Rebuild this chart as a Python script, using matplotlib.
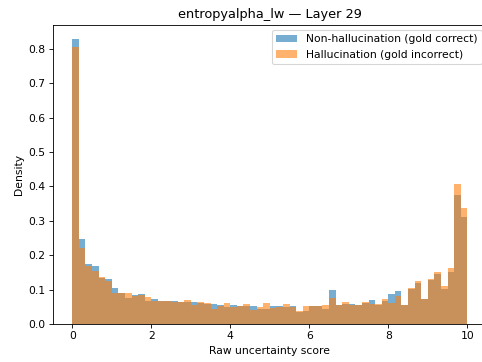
import numpy as np
import matplotlib
matplotlib.use('Agg')
import matplotlib.pyplot as plt

# Histogram densities (60 bins over 0..10)
bin_lo, bin_hi, n_bins = 0.0, 10.0, 60

non_halluc_density = [
    0.829, 0.248, 0.173, 0.169, 0.135, 0.130, 0.104, 0.090, 0.077, 0.085,
    0.087, 0.067, 0.074, 0.067, 0.067, 0.067, 0.064, 0.064, 0.064, 0.062,
    0.058, 0.058, 0.054, 0.050, 0.054, 0.051, 0.053, 0.053, 0.045, 0.045,
    0.052, 0.051, 0.049, 0.053, 0.034, 0.037, 0.053, 0.053, 0.044, 0.098,
    0.055, 0.057, 0.058, 0.056, 0.061, 0.070, 0.055, 0.068, 0.088, 0.096,
    0.054, 0.102, 0.118, 0.072, 0.129, 0.145, 0.102, 0.152, 0.376, 0.312,
]

halluc_density = [
    0.806, 0.220, 0.170, 0.155, 0.137, 0.125, 0.090, 0.089, 0.091, 0.082,
    0.083, 0.079, 0.067, 0.068, 0.067, 0.065, 0.065, 0.069, 0.055, 0.064,
    0.060, 0.044, 0.051, 0.060, 0.049, 0.053, 0.059, 0.040, 0.049, 0.062,
    0.046, 0.048, 0.059, 0.049, 0.039, 0.053, 0.052, 0.052, 0.054, 0.077,
    0.056, 0.064, 0.054, 0.056, 0.065, 0.059, 0.059, 0.074, 0.062, 0.082,
    0.055, 0.105, 0.125, 0.072, 0.132, 0.150, 0.110, 0.162, 0.406, 0.338,
]

labels = ['Non-hallucination (gold correct)', 'Hallucination (gold incorrect)']

edges = np.linspace(bin_lo, bin_hi, n_bins + 1)
centers = (edges[:-1] + edges[1:]) / 2

# 482x362 px; dpi picked so default font sizes match the reference scale
dpi = 77
fig = plt.figure(figsize=(482 / dpi, 362 / dpi), dpi=dpi)
ax = fig.add_axes([0.109, 0.105, 0.9015, 0.827])

ax.hist(centers, bins=edges, weights=non_halluc_density, alpha=0.6, label=labels[0])
ax.hist(centers, bins=edges, weights=halluc_density, alpha=0.6, label=labels[1])

ax.set_title('entropyalpha_lw \u2014 Layer 29')
ax.set_xlabel('Raw uncertainty score')
ax.set_ylabel('Density')
ax.legend(loc='upper right')

fig.savefig('out.png', dpi=dpi)
